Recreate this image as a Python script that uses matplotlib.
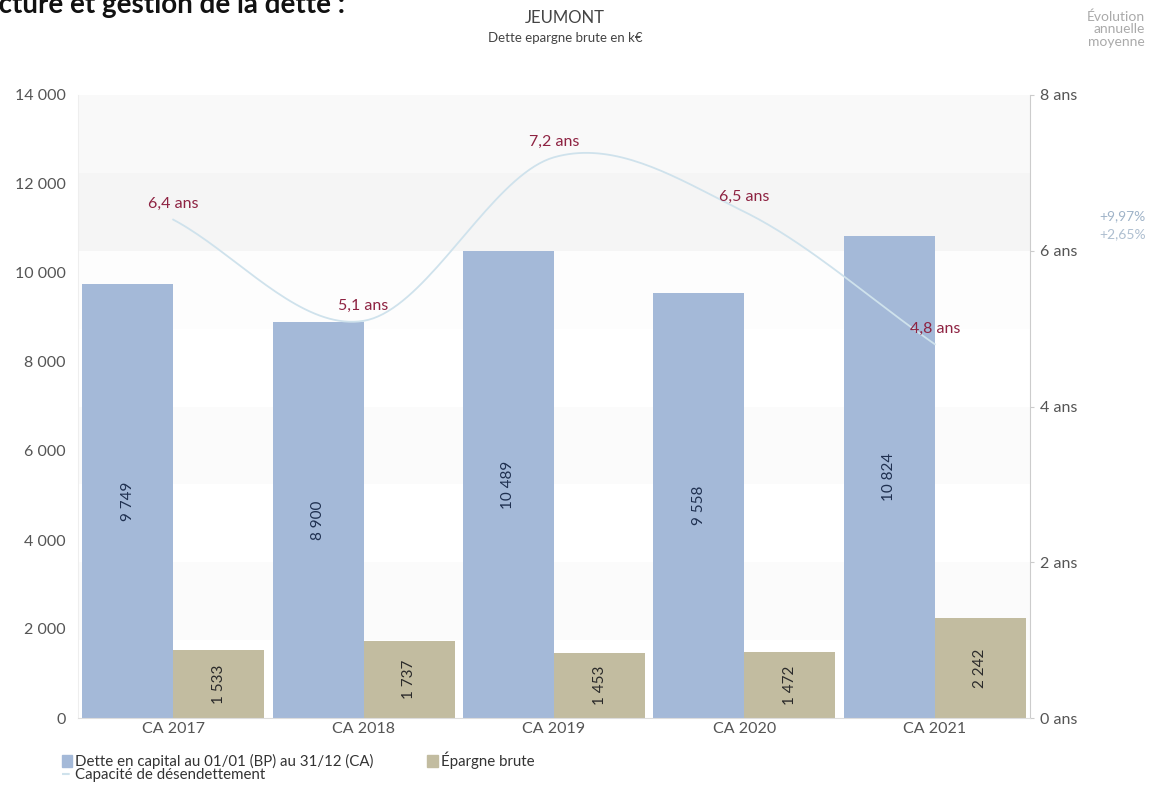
import numpy as np
import matplotlib
matplotlib.use("Agg")
import matplotlib.pyplot as plt
from matplotlib.ticker import FuncFormatter
from matplotlib.patches import Patch
from matplotlib.lines import Line2D

plt.rcParams['font.family'] = ['Lato', 'DejaVu Sans']

categories = ["CA 2017", "CA 2018", "CA 2019", "CA 2020", "CA 2021"]
dette = [9749, 8900, 10489, 9558, 10824]
epargne = [1533, 1737, 1453, 1472, 2242]
capacite = [6.4, 5.1, 7.2, 6.5, 4.8]
evolutions = ["+9,97%", "+2,65%"]

blue = "#a4b9d8"
tan = "#c2bca0"
line_col = "#cfe2ec"
lab_red = "#8e2342"
grey_txt = "#555555"


def fmt_k(v, pos=None):
  return "{:,.0f}".format(v).replace(",", " ")


def catmull(xs, ys, n=40):
  # simple Catmull-Rom through the points
  xs = np.asarray(xs, float)
  ys = np.asarray(ys, float)
  px = np.concatenate([[2*xs[0]-xs[1]], xs, [2*xs[-1]-xs[-2]]])
  py = np.concatenate([[2*ys[0]-ys[1]], ys, [2*ys[-1]-ys[-2]]])
  outx, outy = [], []
  t = np.linspace(0, 1, n)
  for i in range(1, len(px)-2):
    for arr, out in ((px, outx), (py, outy)):
      p0, p1, p2, p3 = arr[i-1], arr[i], arr[i+1], arr[i+2]
      out.extend(0.5*((2*p1) + (-p0+p2)*t + (2*p0-5*p1+4*p2-p3)*t**2 + (-p0+3*p1-3*p2+p3)*t**3))
  return np.array(outx), np.array(outy)


fig = plt.figure(figsize=(11.49, 7.87), dpi=100)
ax = fig.add_axes([78/1149, 1-718/787, (1030-78)/1149, (718-95)/787])
ax2 = ax.twinx()

# background bands (right axis units), very faint
for lo, hi, c in [(1, 2, "#fbfbfb"), (3, 4, "#fbfbfb"), (5, 6, "#fdfdfd"),
                  (6, 7, "#f5f5f5"), (7, 8, "#f9f9f9")]:
  ax2.axhspan(lo, hi, color=c, zorder=0, lw=0)
ax.set_zorder(ax2.get_zorder()+1)
ax.patch.set_visible(False)

x = np.arange(len(categories))
w = 0.478
ax.bar(x - w/2, dette, width=w, color=blue, zorder=2)
ax.bar(x + w/2, epargne, width=w, color=tan, zorder=2)
for xi, v in zip(x, dette):
  ax.text(xi - w/2, v/2, fmt_k(v), rotation=90, ha='center', va='center',
          fontsize=11, color="#1f3050", zorder=3)
for xi, v in zip(x, epargne):
  ax.text(xi + w/2, v/2, fmt_k(v), rotation=90, ha='center', va='center',
          fontsize=11, color="#2a2a2a", zorder=3)

ax.set_xlim(-0.5, len(categories)-0.5)
ax.set_ylim(0, 14000)
ax.set_yticks(np.arange(0, 14001, 2000))
ax.yaxis.set_major_formatter(FuncFormatter(fmt_k))
ax.set_xticks(x)
ax.set_xticklabels(categories)
ax.tick_params(axis='x', length=0, labelsize=11.5, labelcolor=grey_txt, pad=3)
ax.tick_params(axis='y', length=0, labelsize=11.5, labelcolor=grey_txt, pad=9)

# capacite de desendettement line on the right axis
sx, sy = catmull(x, capacite)
ax3 = ax.twinx()
ax3.set_ylim(0, 8)
ax3.axis('off')
ax3.plot(sx, sy, color=line_col, lw=1.3, zorder=4)
for xi, v in zip(x, capacite):
  ax3.annotate("{:.1f} ans".format(v).replace(".", ","), (xi, v), xytext=(0, 11),
               textcoords='offset points', ha='center', va='center',
               fontsize=11.5, color=lab_red, zorder=5)

ax2.set_ylim(0, 8)
ax2.set_yticks(np.arange(0, 9, 2))
ax2.set_yticklabels(["{} ans".format(int(v)) for v in np.arange(0, 9, 2)])
ax2.tick_params(axis='y', length=3, color="#cccccc", labelsize=11.5, labelcolor=grey_txt, pad=4)

for a in (ax, ax2):
  for s in a.spines.values():
    s.set_visible(False)
ax2.spines['right'].set_visible(True)
ax2.spines['right'].set_color("#cccccc")
ax.spines['left'].set_visible(True)
ax.spines['left'].set_color("#eeeeee")
ax.spines['bottom'].set_visible(True)
ax.spines['bottom'].set_color("#dddddd")

# titles (the page heading is cropped at the top in the source image)
fig.text(345/1149, 1-13/787, "Structure et gestion de la dette :", ha='right', va='baseline',
         fontsize=20, fontweight='bold', color="#111111")
fig.text(565/1149, 1-18/787, "JEUMONT", ha='center', va='center', fontsize=12, color="#444444")
fig.text(565/1149, 1-38/787, "Dette epargne brute en k€", ha='center', va='center', fontsize=9.5, color="#444444")
fig.text(1145/1149, 1-29/787, "Évolution\nannuelle\nmoyenne", ha='right', va='center', fontsize=10,
         color="#aaaaaa", linespacing=1.05)
fig.text(1146/1149, 1-216/787, evolutions[0], ha='right', va='center', fontsize=10, color="#9fb3c8")
fig.text(1146/1149, 1-234/787, evolutions[1], ha='right', va='center', fontsize=10, color="#aebfd0")

# legend
handles = [Patch(color=blue, label="Dette en capital au 01/01 (BP) au 31/12 (CA)"),
           Patch(color=tan, label="Épargne brute")]
fig.legend(handles=handles, loc='upper left', bbox_to_anchor=(54/1149, 1-744/787), ncol=2,
           frameon=False, fontsize=10.8, handlelength=0.7, handleheight=0.85, handletextpad=0.2,
           columnspacing=3.6, borderpad=0, labelcolor="#333333")
fig.legend(handles=[Line2D([0], [0], color=line_col, lw=1.5, ls='--', label="Capacité de désendettement")],
           loc='upper left', bbox_to_anchor=(54/1149, 1-761/787), frameon=False, fontsize=10.8,
           handlelength=0.7, handletextpad=0.2, borderpad=0, labelcolor="#333333")

fig.savefig("out.png", dpi=100)
